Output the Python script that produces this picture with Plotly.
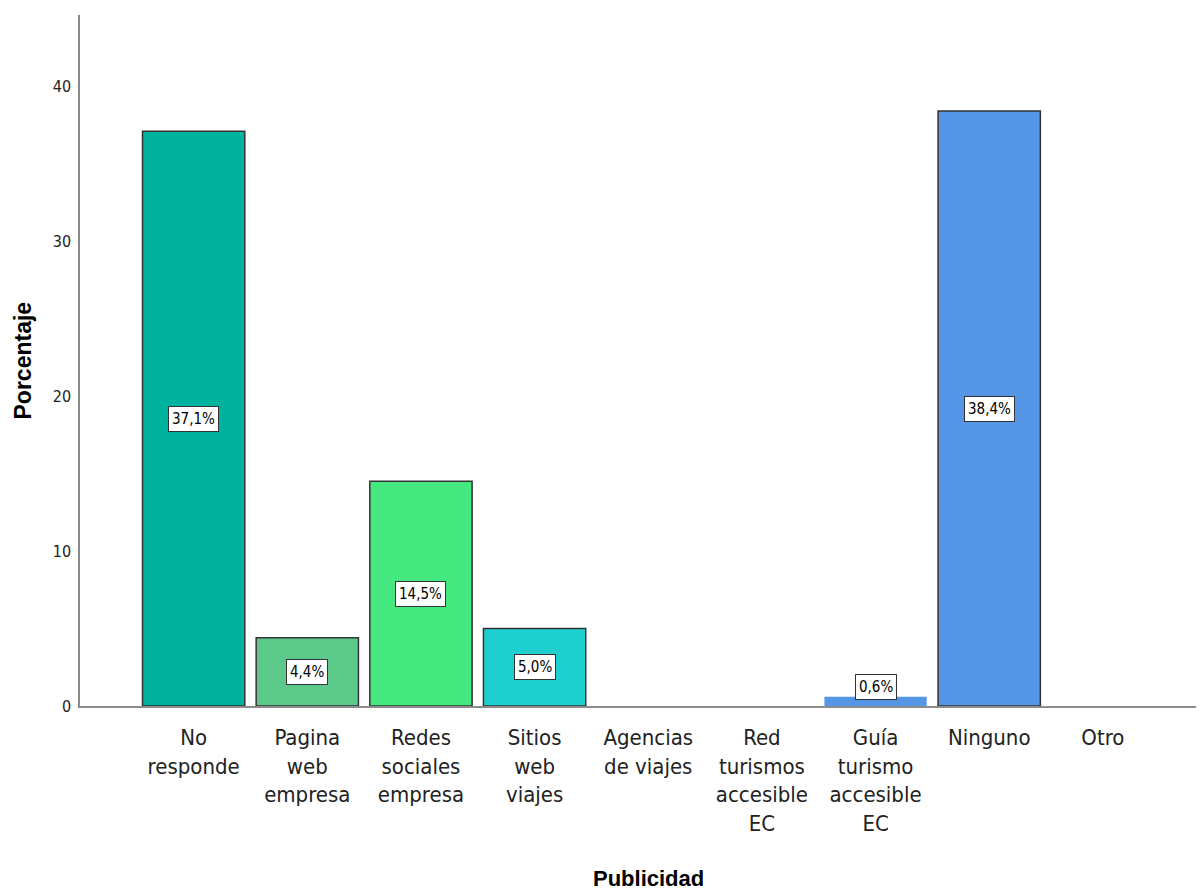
import plotly.graph_objects as go

categories = ["No<br>responde", "Pagina<br>web<br>empresa", "Redes<br>sociales<br>empresa",
              "Sitios<br>web<br>viajes", "Agencias<br>de viajes", "Red<br>turismos<br>accesible<br>EC",
              "Guía<br>turismo<br>accesible<br>EC", "Ninguno", "Otro"]
values = [37.1, 4.4, 14.5, 5.0, 0, 0, 0.6, 38.4, 0]
labels = ["37,1%", "4,4%", "14,5%", "5,0%", "", "", "0,6%", "38,4%", ""]
colors = ["#00B39E", "#5CC98A", "#44E87E", "#1DCFCF", "#5596E6", "#5596E6", "#5596E6", "#5596E6", "#5596E6"]
outline = [1.5, 1.5, 1.5, 1.5, 0, 0, 0, 1.5, 0]
y_ticks = [0, 10, 20, 30, 40]

NARROW = "Liberation Sans Narrow, Arial Narrow, DejaVu Sans Condensed, sans-serif"

idx = list(range(len(categories)))
fig = go.Figure()
fig.add_trace(go.Bar(
    x=idx, y=values,
    marker=dict(color=colors, line=dict(color="#333333", width=outline)),
    width=0.9, hoverinfo="skip",
))

for i, (v, lab) in enumerate(zip(values, labels)):
    if not lab:
        continue
    fig.add_annotation(
        x=i, y=max(v / 2, 1.2), text=lab, showarrow=False,
        font=dict(family=NARROW, size=15, color="#000"),
        bgcolor="white", bordercolor="#333333", borderwidth=1, borderpad=3,
    )

fig.add_annotation(x=0.5, y=0, xref="paper", yref="paper", yanchor="middle",
                   yshift=-172, xshift=6, text="<b>Publicidad</b>", showarrow=False,
                   font=dict(family="Liberation Sans, Arial, sans-serif", size=22, color="#000"))
fig.add_annotation(x=0, y=0.5, xref="paper", yref="paper", xanchor="center",
                   xshift=-58, text="<b>Porcentaje</b>", textangle=-90, showarrow=False,
                   font=dict(family="Liberation Sans, Arial, sans-serif", size=23, color="#000"))

fig.update_layout(
    width=1196, height=885,
    margin=dict(l=72, r=0, t=7, b=187),
    plot_bgcolor="white", paper_bgcolor="white",
    showlegend=False,
    xaxis=dict(
        tickmode="array", tickvals=idx, ticktext=categories,
        range=[-1.0, 8.89], showgrid=False, zeroline=False,
        showline=True, linecolor="#8c8c8c", linewidth=1.5,
        tickfont=dict(family=NARROW, size=22, color="#222"),
        ticks="", ticklabelstandoff=11,
    ),
    yaxis=dict(
        range=[0, 44.6], tickvals=y_ticks, showgrid=False, zeroline=False,
        showline=True, linecolor="#8c8c8c", linewidth=1.5,
        tickfont=dict(family=NARROW, size=16, color="#222"),
        ticks="", ticklabelstandoff=4,
    ),
)

fig.write_html("out.html")
